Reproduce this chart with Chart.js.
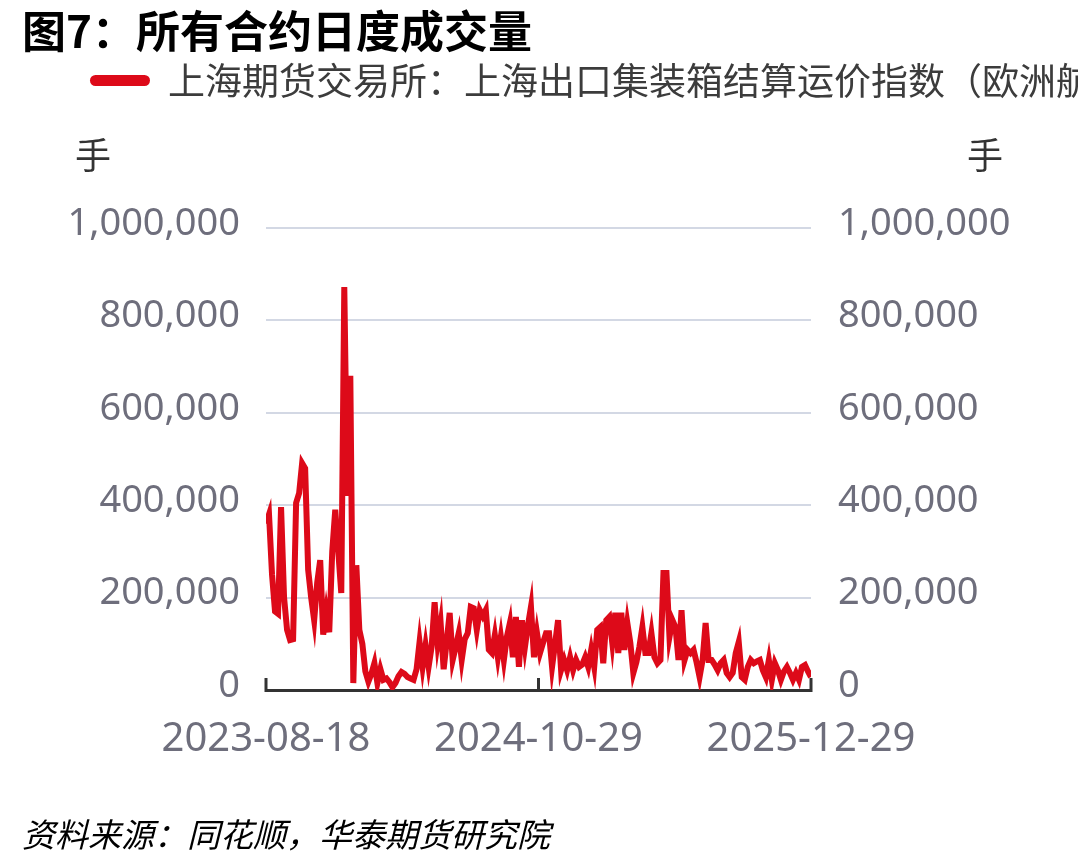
<!DOCTYPE html>
<html>
<head>
<meta charset="utf-8">
<script src="https://cdn.jsdelivr.net/npm/chart.js@4/dist/chart.umd.min.js"></script>
<style>
    body {
        margin: 0;
        width: 1078px;
        height: 866px;
        overflow: hidden;
        position: relative;
        background: #fff;
        font-family: "Noto Sans CJK SC", sans-serif;
    }
    #chart { position: absolute; left: 0; top: 0; }
    .txt { position: absolute; white-space: nowrap; line-height: 1; }
    #title { left: 22px; top: 7px; font-size: 44px; font-weight: bold; color: #000; }
    #legend { left: 90px; top: 61px; font-size: 37px; color: #3c3c3c; }
    #legend .swatch {
        display: inline-block;
        width: 60px;
        height: 11px;
        border-radius: 6px;
        background: #dd0a19;
        vertical-align: middle;
        margin-right: 18px;
        position: relative;
        top: -4px;
    }
    .unit { top: 135px; font-size: 36px; color: #333; }
    #unit-left { left: 75px; }
    #unit-right { left: 967px; }
    #source { left: 22px; top: 817px; font-size: 33px; font-style: italic; color: #000; }
</style>
</head>
<body>
<canvas id="chart" width="1078" height="866"></canvas>
<div id="title" class="txt">图7：所有合约日度成交量</div>
<div id="legend" class="txt"><span class="swatch"></span>上海期货交易所：上海出口集装箱结算运价指数（欧洲航线）：成交量：所有合约</div>
<div id="unit-left" class="txt unit">手</div>
<div id="unit-right" class="txt unit">手</div>
<div id="source" class="txt">资料来源：同花顺，华泰期货研究院</div>

<script>
const seriesName = '上海期货交易所：上海出口集装箱结算运价指数（欧洲航线）：成交量：所有合约';
const xTickLabels = ['2023-08-18', '2024-10-29', '2025-12-29'];
const yTicks = [0, 200000, 400000, 600000, 800000, 1000000];

// daily volume (手), oldest first
const volume = [
    360000, 380000, 250000, 170000, 165000, 396000, 200000, 130000, 108000, 110000,
    405000, 426000, 491000, 480000, 260000, 200000, 151000, 232000, 281000, 120000,
    170000, 125000, 300000, 390000, 300000, 210000, 872000, 420000, 680000, 15000,
    270000, 130000, 100000, 40000, 18000, 35000, 58000, 15000, 45000, 22000,
    25000, 17000, 6000, 15000, 30000, 39000, 35000, 28000, 25000, 22000,
    45000, 104000, 50000, 97000, 50000, 93000, 190000, 102000, 145000, 45000,
    104000, 167000, 65000, 93000, 123000, 65000, 110000, 123000, 180000, 177000,
    130000, 173000, 160000, 173000, 87000, 80000, 119000, 71000, 115000, 65000,
    115000, 145000, 71000, 158000, 50000, 151000, 93000, 140000, 180000, 71000,
    123000, 80000, 102000, 123000, 123000, 50000, 100000, 151000, 43000, 65000,
    43000, 71000, 43000, 65000, 50000, 55000, 71000, 50000, 87000, 50000,
    130000, 136000, 58000, 151000, 158000, 102000, 167000, 80000, 167000, 87000,
    145000, 102000, 37000, 60000, 93000, 136000, 80000, 80000, 123000, 71000,
    58000, 65000, 253000, 253000, 115000, 151000, 136000, 65000, 173000, 65000,
    87000, 80000, 87000, 60000, 28000, 65000, 145000, 65000, 65000, 55000,
    43000, 58000, 65000, 37000, 28000, 37000, 80000, 104000, 28000, 22000,
    50000, 65000, 58000, 62000, 65000, 43000, 28000, 65000, 22000, 58000,
    43000, 22000, 40000, 50000, 37000, 22000, 37000, 22000, 50000, 54000,
    40000, 28000
];

const lastIdx = volume.length - 1;

// tick marks pointing up into the plot
const innerTicks = {
    id: 'innerTicks',
    afterDraw(chart) {
        const { ctx, chartArea } = chart;
        const x = chart.scales.x;
        ctx.save();
        ctx.strokeStyle = '#333';
        ctx.lineWidth = 3;
        x.ticks.forEach(t => {
            const px = x.getPixelForValue(t.value);
            ctx.beginPath();
            ctx.moveTo(px, chartArea.bottom + 2);
            ctx.lineTo(px, chartArea.bottom - 12);
            ctx.stroke();
        });
        ctx.restore();
    }
};

const tickFont = { size: 38, family: "'Noto Sans', sans-serif" };
const tickColor = '#6e6e7c';
const fmt = v => v.toLocaleString('en-US');

const yAxis = (position) => ({
    position,
    min: 0,
    max: 1000000,
    afterBuildTicks: axis => { axis.ticks = yTicks.map(v => ({ value: v })); },
    afterFit: axis => { axis.width = position === 'left' ? 266 : 267; },
    ticks: {
        color: tickColor,
        font: tickFont,
        padding: position === 'left' ? 26 : 27,
        labelOffset: -4,
        callback: v => fmt(v),
    },
    grid: {
        display: position === 'left',
        color: '#d3d8e4',
        lineWidth: 2,
        drawTicks: false,
    },
    border: { display: false },
});

new Chart(document.getElementById('chart').getContext('2d'), {
    type: 'line',
    data: {
        datasets: [{
            label: seriesName,
            data: volume.map((v, i) => ({ x: i, y: v })),
            borderColor: '#dd0a19',
            borderWidth: 6,
            pointRadius: 0,
            tension: 0,
            borderJoinStyle: 'miter',
        }]
    },
    options: {
        responsive: false,
        animation: false,
        devicePixelRatio: 1,
        layout: { padding: { left: 0, right: 0, top: 228, bottom: 76 } },
        plugins: {
            legend: { display: false },
            tooltip: { enabled: false },
        },
        scales: {
            x: {
                type: 'linear',
                min: 0,
                max: lastIdx,
                afterBuildTicks: axis => {
                    axis.ticks = [0, lastIdx / 2, lastIdx].map(v => ({ value: v }));
                },
                afterFit: axis => { axis.height = 100; },
                ticks: {
                    color: tickColor,
                    font: { size: 40, family: "'Noto Sans', sans-serif" },
                    padding: 18,
                    maxRotation: 0,
                    autoSkip: false,
                    callback: (v, i) => xTickLabels[i],
                },
                grid: { display: false },
                border: { display: true, color: '#333', width: 3 },
            },
            y: yAxis('left'),
            y2: yAxis('right'),
        }
    },
    plugins: [innerTicks]
});
</script>
</body>
</html>
